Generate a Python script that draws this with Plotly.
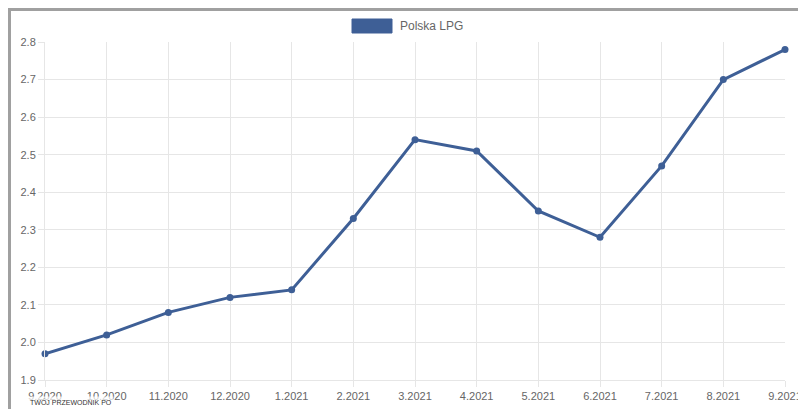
import plotly.graph_objects as go

months = ["9.2020","10.2020","11.2020","12.2020","1.2021","2.2021","3.2021","4.2021","5.2021","6.2021","7.2021","8.2021","9.2021"]
lpg = [1.97,2.02,2.08,2.12,2.14,2.33,2.54,2.51,2.35,2.28,2.47,2.70,2.78]
series_name = "Polska LPG"
color = "#3e5f96"

W, H = 740, 338
def px(x): return (x-37)/W
def py(y): return (372-y)/H

fig = go.Figure(go.Scatter(x=months, y=lpg, mode="lines+markers", name=series_name,
    line=dict(color=color, width=3), marker=dict(size=7, color=color), showlegend=False, cliponaxis=False))
fig.update_layout(
    width=806, height=409, margin=dict(l=37, r=29, t=34, b=37, autoexpand=False),
    paper_bgcolor="white", plot_bgcolor="white",
    font=dict(family="Liberation Sans, Arial", size=11, color="#666"),
    xaxis=dict(showgrid=True, gridcolor="#e6e6e6", linecolor="#e6e6e6", range=[0, 12], automargin=False,
               ticks="outside", ticklen=6, tickcolor="#e6e6e6", zeroline=False),
    yaxis=dict(range=[1.9, 2.8], dtick=0.1, tickformat=".1f", showgrid=True, gridcolor="#e6e6e6", automargin=False,
               linecolor="#e6e6e6", ticks="outside", ticklen=6, tickcolor="#e6e6e6", zeroline=False),
    shapes=[
        dict(type="rect", xref="paper", yref="paper", x0=px(1.5), x1=px(804.5), y0=py(407.5), y1=py(1.5),
             line=dict(color="#a0a0a0", width=3), layer="above"),
        dict(type="rect", xref="paper", yref="paper", x0=px(344), x1=px(384), y0=py(25), y1=py(11),
             fillcolor=color, line=dict(color=color, width=1)),
    ],
    annotations=[
        dict(xref="paper", yref="paper", x=px(390), y=py(18), text=series_name, showarrow=False,
             xanchor="left", yanchor="middle", font=dict(size=12, color="#666")),
        dict(xref="paper", yref="paper", x=px(63), y=py(398), text="TWÓJ PRZEWODNIK PO<br>FINANSACH",
             showarrow=False, xanchor="center", yanchor="middle", bgcolor="rgba(255,255,255,0.7)",
             font=dict(size=7, color="#333")),
    ],
)
fig.write_html("out.html")
